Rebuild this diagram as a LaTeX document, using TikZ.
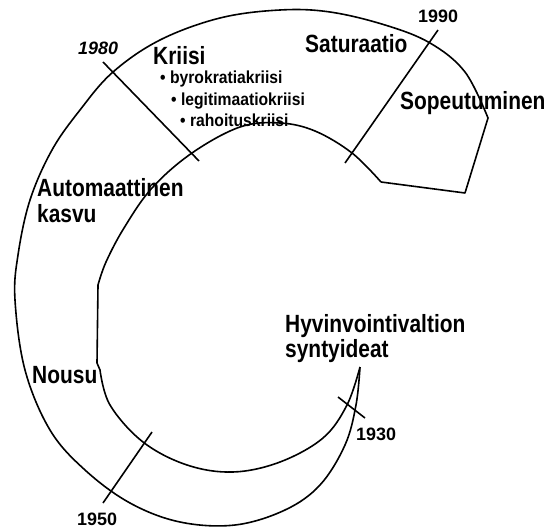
\documentclass[tikz,border=0pt]{standalone}
\usepackage{fontspec}
\newfontfamily\labfont[FakeStretch=0.84]{Liberation Sans}
\newfontfamily\subfont[FakeStretch=0.9]{Liberation Sans}
\newfontfamily\yrfont{Liberation Sans}
\begin{document}
\begin{tikzpicture}[x=1bp,y=-1bp,
  curve/.style={line width=1.6bp, line join=round},
  tick/.style={line width=1.6bp},
  lab/.style={anchor=base west, inner sep=0pt, font=\labfont\bfseries\fontsize{25}{27}\selectfont},
  sublab/.style={anchor=base west, inner sep=0pt, font=\subfont\bfseries\fontsize{17.5}{19}\selectfont},
  yr/.style={anchor=base west, inner sep=0pt, font=\yrfont\bfseries\fontsize{18}{20}\selectfont},
  yri/.style={anchor=base west, inner sep=0pt, font=\yrfont\bfseries\itshape\fontsize{18}{20}\selectfont}]
\useasboundingbox (0,0) rectangle (559,530);
% outer edge of the band
\draw[curve] plot[smooth, tension=0.6] coordinates {(360,367) (356,405) (345,445) (320,485) (285,510) (235,525) (180,522) (130,503) (85,470) (50,430) (25,370) (15,300) (18,255) (30,200) (52,150) (80,110) (113,72) (160,40) (220,18) (280,10) (330,12) (385,25) (430,43) (465,72) (488,118)} -- (465,193) -- (381,182);
% inner edge of the band
\draw[curve] plot[smooth, tension=0.6] coordinates {(381,182) (352,153) (315,131) (280,123) (240,127) (192,153) (152,188) (124,228) (106,262) (98,285)} -- (97,363) -- plot[smooth, tension=0.6] coordinates {(100,370) (110,405) (143,442) (187,465) (233,472) (280,462) (323,438) (347,405) (360,367)};
% year ticks
\coordinate (t80a) at (103,62); \coordinate (t80b) at (199,161);
\coordinate (t90a) at (438,30); \coordinate (t90b) at (345,163);
\coordinate (t50a) at (152,432); \coordinate (t50b) at (103,503);
\coordinate (t30a) at (338,397); \coordinate (t30b) at (365,418);
\draw[tick] (t80a) -- (t80b);
\draw[tick] (t90a) -- (t90b);
\draw[tick] (t50a) -- (t50b);
\draw[tick] (t30a) -- (t30b);
% years
\node[yri] (y1980) at (78,55) {1980};
\node[yr] (y1990) at (418,23) {1990};
\node[yr] (y1930) at (356,440) {1930};
\node[yr] (y1950) at (77,525) {1950};
% labels
\node[lab] (kriisi) at (153,65) {Kriisi};
\node[sublab] (b1) at (160,84) {• byrokratiakriisi};
\node[sublab] (b2) at (171,106) {• legitimaatiokriisi};
\node[sublab] (b3) at (180,127) {• rahoituskriisi};
\node[lab] (satur) at (305,53) {Saturaatio};
\node[lab] (sopeu) at (400,110) {Sopeutuminen};
\node[lab] (auto1) at (37,197) {Automaattinen};
\node[lab] (auto2) at (37,223) {kasvu};
\node[lab] (nousu) at (32,383) {Nousu};
\node[lab] (hyv1) at (285,332) {Hyvinvointivaltion};
\node[lab] (hyv2) at (285,357) {syntyideat};
\end{tikzpicture}
\end{document}
